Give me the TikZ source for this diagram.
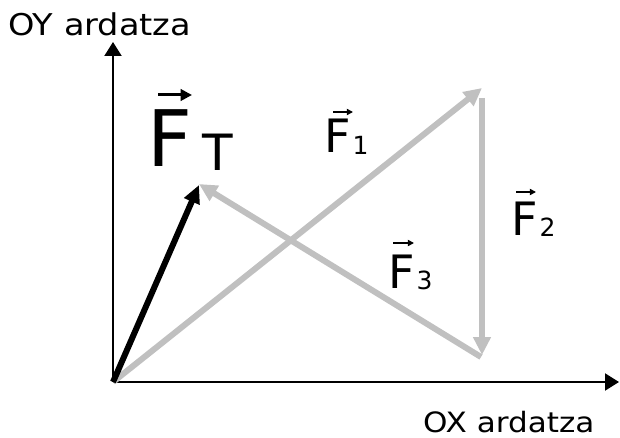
\documentclass[tikz,border=0pt]{standalone}
\usepackage{fontspec}
\usepackage{graphicx}
\setmainfont{DejaVu Sans}
\usetikzlibrary{arrows.meta}
\definecolor{vgray}{RGB}{192,192,192}
\tikzset{
  axis/.style={line width=2pt,-{Triangle[length=14pt,width=17pt]}},
  resul/.style={line width=6pt,-{Triangle[length=18pt,width=16pt]}},
  comp/.style={line width=6pt,vgray,-{Triangle[length=18pt,width=17pt]}},
  lbl/.style={inner sep=0pt,anchor=base west},
  vbar/.style={line width=#1,-{Triangle[length=3.8*#1,width=3.8*#1]}}
}
\begin{document}
\begin{tikzpicture}[x=1pt,y=-1pt]
\useasboundingbox (0,0) rectangle (620,438);
% coordinates
\coordinate (O) at (113,382);
\coordinate (X) at (619,382);
\coordinate (Y) at (113,42);
\coordinate (T) at (199,185);
\coordinate (A) at (482,88);
\coordinate (B) at (482,98);
\coordinate (C) at (482,355);
\coordinate (D) at (199,184);
% axes
\draw[axis] (O) -- (X);
\draw[axis] (O) -- (Y);
% component vectors
\draw[comp] (O) -- (A);
\draw[comp] (B) -- (C);
\draw[comp] ([xshift=-1pt,yshift=-2pt]C) -- (D);
% resultant
\draw[resul] (O) -- (T);
% axis labels
\node[lbl,font=\fontsize{30}{32}\selectfont] (oy) at (8,36) {\scalebox{1.12}[1]{OY ardatza}};
\node[lbl,font=\fontsize{28}{30}\selectfont] (ox) at (423,432) {\scalebox{1.11}[1]{OX ardatza}};
% labels
\node[lbl,font=\fontsize{78}{80}\selectfont] (FT) at (147,167) {F\hspace{10pt}{\fontsize{50}{50}\selectfont\raisebox{-4pt}{T}}};
\draw[vbar=3pt] (158,95) -- (192,95);
\node[lbl,font=\fontsize{46}{48}\selectfont] (F1) at (324,153) {F\hspace{2pt}{\fontsize{25}{25}\selectfont\raisebox{-2pt}{1}}};
\draw[vbar=1.6pt] (333,112) -- (353,112);
\node[lbl,font=\fontsize{46}{48}\selectfont] (F2) at (511,235) {F\hspace{2pt}{\fontsize{25}{25}\selectfont\raisebox{-1pt}{2}}};
\draw[vbar=1.6pt] (516,192) -- (536,192);
\node[lbl,font=\fontsize{46}{48}\selectfont] (F3) at (388,288) {F\hspace{2pt}{\fontsize{25}{25}\selectfont\raisebox{-1pt}{3}}};
\draw[vbar=1.6pt] (393,243) -- (414,243);
\end{tikzpicture}
\end{document}
